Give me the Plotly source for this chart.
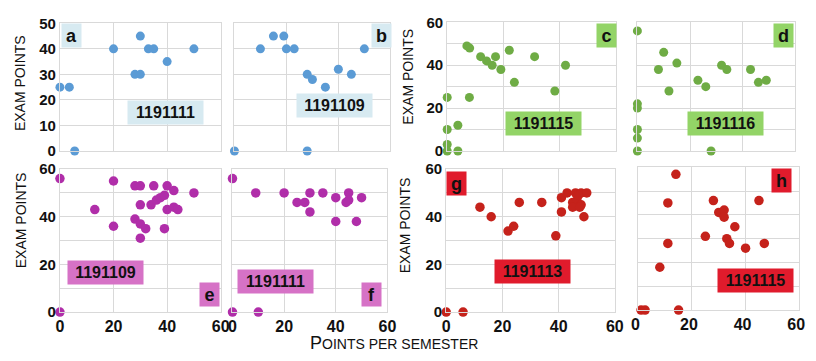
import plotly.graph_objects as go

W, H = 816, 361

# ---------------- data (points per semester, exam points) ----------------
a_x = [0, 3.5, 5.5, 20, 28, 30, 30, 33, 35, 40, 50]
a_y = [25, 25, 0, 40, 30, 30, 45, 40, 40, 35, 40]

b_x = [0, 10, 15, 19, 20, 23, 28, 30, 28, 35, 40, 45, 50]
b_y = [0, 40, 45, 45, 40, 40, 30, 28, 0, 25, 32, 30, 40]

c_x = [0, 0, 0, 0, 3.8, 3.8, 7, 8, 7.9, 11.9, 14, 16, 17.2, 19.1, 22.1, 23.9, 31.1, 38.3, 42.1]
c_y = [25, 10, 3, 0, 0, 12, 49, 48, 25, 44, 42, 40, 44, 38, 47, 32, 44, 28, 40]

d_x = [0, 10, 8, 15, 12, 0, 0, 0, 0, 0, 28, 23, 26, 32, 34, 43, 46, 49]
d_y = [56, 46, 38, 41, 28, 22, 20, 10, 6, 0, 0, 33, 30, 40, 38, 38, 32, 33]

e_x = [0, 0, 13, 20, 20, 28, 30, 35, 40, 42.5, 50, 30, 34, 36, 37.5, 39, 40, 42.5, 44, 28, 30, 32, 30, 39]
e_y = [56, 0, 43, 55, 36, 53, 53, 53, 53, 51, 50, 45, 45, 47, 48, 49, 43, 44, 43, 39, 37, 35, 31, 35]

f_x = [0, 0, 10, 9, 20, 25, 28, 30, 30, 35, 40, 40, 45, 45, 44, 50, 48]
f_y = [56, 0, 0, 50, 50, 46, 46, 50, 42, 50, 48, 38, 50, 47, 46, 48, 38]

g_x = [0, 6, 12, 16, 22, 24, 26, 34, 39, 41, 41, 43, 46, 48, 50, 45, 46.5, 48, 45, 47.5, 49, 47]
g_y = [0, 0, 44, 40, 34, 36, 46, 46, 32, 42, 48, 50, 50, 50, 50, 46, 47, 45, 44, 44, 40, 49]

h_x = [1, 2.5, 15, 14, 11, 11, 8, 28, 45, 30, 32, 32, 36, 25, 33, 34, 40, 47]
h_y = [0, 0, 0, 57, 45, 28, 18, 46, 46, 41, 42, 39, 35, 31, 30, 28, 26, 28]

panel_letters = ["a", "b", "c", "d", "e", "f", "g", "h"]
course_ids = ["1191111", "1191109", "1191115", "1191116", "1191109", "1191111", "1191113", "1191115"]
x_ticks = [0, 20, 40, 60]
y_ticks_50 = [0, 10, 20, 30, 40, 50]
y_ticks_60 = [0, 10, 20, 30, 40, 50, 60]
y_text_60 = ["0", "", "20", "", "40", "", "60"]
x_title = "POINTS PER SEMESTER"
y_title = "EXAM POINTS"

# ---------------- styling ----------------
BLUE, GREEN, PURPLE, RED = "#5b9bd5", "#6fac45", "#b02ea9", "#c5221b"
BOX_BLUE, BOX_GREEN, BOX_PURPLE, BOX_RED = "#d7eaf1", "#93d467", "#d672c6", "#e01b2c"
GRID = "#d9d9d9"
FONT = "Liberation Sans Narrow, Arial Narrow, Liberation Sans, Arial, sans-serif"

data_sets = [(a_x, a_y), (b_x, b_y), (c_x, c_y), (d_x, d_y),
             (e_x, e_y), (f_x, f_y), (g_x, g_y), (h_x, h_y)]
colors = [BLUE, BLUE, GREEN, GREEN, PURPLE, PURPLE, RED, RED]
marker_sizes = [9, 9, 9, 9, 9.5, 9.5, 9.5, 9.5]
box_colors = [BOX_BLUE, BOX_BLUE, BOX_GREEN, BOX_GREEN, BOX_PURPLE, BOX_PURPLE, BOX_RED, BOX_RED]
# pixel boxes: left, right, top, bottom
boxes = [(54, 218, 15, 149), (232, 391, 15, 149), (449, 621, 14, 149), (643, 804, 14, 149),
         (54, 218, 168, 318), (230, 388, 168, 318), (448, 620, 168, 318), (644, 808, 166, 316)]
ymaxes = [50, 50, 60, 60, 60, 60, 60, 60]
show_ylab = [True, False, True, False, True, False, True, False]
show_xlab = [False, False, False, False, True, True, True, True]
xlab_shift = [0, 0, 0, 0, 0, 0, 0, -3]
# label box centers (px)
letter_pos = [(66, 28), (382, 28), (611, 28), (792, 28), (207, 300), (371.5, 299.5), (458.5, 183), (790, 179.5)]
id_pos = [(162, 108.5), (334.5, 101.5), (547, 120), (733, 120), (100, 277), (274, 286), (535.5, 275.5), (763.5, 284.5)]


def px(x):
    return x / W


def py(y):
    return 1 - y / H


fig = go.Figure()
layout = dict(width=W, height=H, margin=dict(l=0, r=0, t=0, b=0),
              paper_bgcolor="white", plot_bgcolor="white", showlegend=False,
              annotations=[])

for i in range(8):
    n = i + 1
    xs, ys = data_sets[i]
    fig.add_trace(go.Scatter(
        x=xs, y=ys, mode="markers", cliponaxis=False,
        marker=dict(color=colors[i], size=marker_sizes[i], line=dict(width=0)),
        xaxis="x" if n == 1 else f"x{n}", yaxis="y" if n == 1 else f"y{n}",
        hoverinfo="x+y"))
    l, r, t, b = boxes[i]
    xa = dict(domain=[px(l), px(r)], range=[0, 60], tickvals=x_ticks,
              showticklabels=show_xlab[i], showgrid=True, gridcolor=GRID, gridwidth=1,
              zeroline=False, showline=True, linecolor=GRID, linewidth=1, mirror=True,
              ticks="", ticklabelshift=xlab_shift[i],
              tickfont=dict(family=FONT, size=16, color="#111", weight="bold"),
              anchor="y" if n == 1 else f"y{n}", fixedrange=True)
    if ymaxes[i] == 50:
        yv, yt = y_ticks_50, [str(v) for v in y_ticks_50]
    else:
        yv, yt = y_ticks_60, y_text_60
    ya = dict(domain=[py(b), py(t)], range=[0, ymaxes[i]], tickvals=yv, ticktext=yt,
              showticklabels=show_ylab[i], showgrid=True, gridcolor=GRID, gridwidth=1,
              zeroline=False, showline=True, linecolor=GRID, linewidth=1, mirror=True,
              ticks="", tickfont=dict(family=FONT, size=15, color="#111", weight="bold"),
              anchor="x" if n == 1 else f"x{n}", fixedrange=True)
    layout["xaxis" if n == 1 else f"xaxis{n}"] = xa
    layout["yaxis" if n == 1 else f"yaxis{n}"] = ya

    lx, ly = letter_pos[i]
    layout["annotations"].append(dict(
        x=px(lx), y=py(ly), xref="paper", yref="paper", xanchor="center", yanchor="middle",
        text=panel_letters[i], showarrow=False, bgcolor=box_colors[i], borderpad=0,
        width=19, height=23, font=dict(family=FONT, size=18, color="#111", weight="bold")))
    ix, iy = id_pos[i]
    layout["annotations"].append(dict(
        x=px(ix), y=py(iy), xref="paper", yref="paper", xanchor="center", yanchor="middle",
        text=course_ids[i], showarrow=False, bgcolor=box_colors[i], borderpad=0,
        width=75, height=23, font=dict(family=FONT, size=16, color="#111", weight="bold")))

# y-axis titles
for (tx, ty) in [(14, 78), (409, 71), (14, 222), (406, 227)]:
    layout["annotations"].append(dict(
        x=px(tx), y=py(ty), xref="paper", yref="paper", xanchor="center", yanchor="middle",
        text=y_title, textangle=-90, showarrow=False,
        font=dict(family=FONT, size=14, color="#111")))

# x-axis title in small caps
sc_text = x_title[0] + "<span style='font-size:14px'>" + x_title[1:] + "</span>"
layout["annotations"].append(dict(
    x=px(395), y=py(351), xref="paper", yref="paper", xanchor="center", yanchor="middle",
    text=sc_text, showarrow=False, font=dict(family=FONT, size=18, color="#111")))

fig.update_layout(**layout)
fig.write_html("out.html", config={"displayModeBar": False},
               post_script="document.body.style.margin='0';document.body.style.overflow='hidden';")
